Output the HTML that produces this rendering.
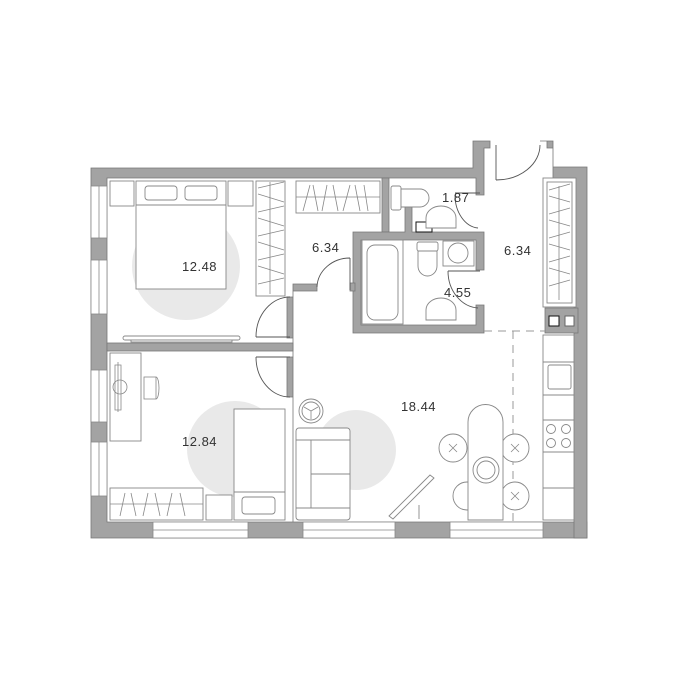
<!DOCTYPE html>
<html><head><meta charset="utf-8"><style>body{margin:0;background:#fff}svg{display:block}</style></head><body>
<svg width="680" height="679" viewBox="0 0 680 679" xmlns="http://www.w3.org/2000/svg" font-family="Liberation Sans, sans-serif">
<g fill="#e9e9e9"><circle cx="186" cy="266" r="54"/><circle cx="235" cy="449" r="48"/><circle cx="356" cy="450" r="40"/></g>
<g fill="#a3a3a3" stroke="#777" stroke-width="0.8">
<path d="M91 168 H473 V141 H490 V148 H484 V195 H476 V178 H107 V522 H293 V397 H287 V357 H293 V338 H287 V297 H293 V284 H317 V291 H293 V522 H587 V538 H91 Z"/>
<path d="M540 141 H553 V167 H587 V538 H574 V178 H553 V148 H547 V141 Z" />
<rect x="107" y="343" width="186" height="8"/>
<rect x="382" y="178" width="7" height="54"/>
<path d="M353 232 H405 V207 H412 V232 H484 V270 H476 V240 H361 V325 H476 V305 H484 V333 H353 Z"/>
<rect x="350" y="283" width="5" height="8"/>
<rect x="545" y="308" width="33" height="25"/>
</g>
<g fill="#fff" stroke="#888" stroke-width="0.8">
<rect x="91" y="186" width="16" height="52"/><rect x="91" y="260" width="16" height="54"/>
<rect x="91" y="370" width="16" height="52"/><rect x="91" y="442" width="16" height="54"/>
<rect x="153" y="522" width="95" height="16"/><rect x="303" y="522" width="92" height="16"/><rect x="450" y="522" width="93" height="16"/>
</g>
<g stroke="#888" stroke-width="0.8"><line x1="99" y1="186" x2="99" y2="238"/><line x1="99" y1="260" x2="99" y2="314"/><line x1="99" y1="370" x2="99" y2="422"/><line x1="99" y1="442" x2="99" y2="496"/>
<line x1="153" y1="530" x2="248" y2="530"/><line x1="303" y1="530" x2="395" y2="530"/><line x1="450" y1="530" x2="543" y2="530"/></g>
<g fill="#fff" stroke="#111" stroke-width="1"><rect x="549" y="316" width="10" height="10"/><rect x="565" y="316" width="9" height="10" stroke="#666"/><rect x="416" y="222" width="16" height="10"/></g>
<g fill="none" stroke="#555" stroke-width="0.9">
<path d="M256 337 H290 M256 337 A34 40 0 0 1 290 297"/>
<path d="M256 357 H290 M256 357 A34 40 0 0 0 290 397"/>
<path d="M350 258 V290 M317 287 A33 30 0 0 1 350 258"/>
<path d="M455 193 H480 M455 195 A25 33 0 0 0 478 228"/>
<path d="M448 271 H480 M448 271 A32 37 0 0 0 478 308"/>
<path d="M496 145 V180 M496 180 A44 35 0 0 0 540 145"/>
</g>
<g stroke="#999" stroke-width="1" stroke-dasharray="8 6" fill="none"><path d="M484 331 H545 M513 331 V522"/></g>
<g fill="#fff" stroke="#888" stroke-width="0.9">
<rect x="110" y="181" width="24" height="25"/><rect x="228" y="181" width="25" height="25"/>
<rect x="136" y="181" width="90" height="108"/><rect x="145" y="186" width="32" height="14" rx="3"/><rect x="185" y="186" width="32" height="14" rx="3"/>
<line x1="136" y1="205" x2="226" y2="205"/>
<rect x="256" y="181" width="29" height="115"/>
<rect x="123" y="336" width="117" height="4" rx="2"/><rect x="131" y="340" width="101" height="2"/>
<rect x="296" y="181" width="84" height="32"/>
<rect x="110" y="353" width="31" height="88"/><rect x="234" y="409" width="51" height="111"/><rect x="242" y="497" width="33" height="17" rx="3"/>
<line x1="234" y1="492" x2="285" y2="492"/>
<rect x="110" y="488" width="93" height="32"/><rect x="206" y="495" width="26" height="25"/>
<rect x="296" y="428" width="54" height="92" rx="3"/><line x1="296" y1="440" x2="350" y2="440"/><line x1="296" y1="508" x2="350" y2="508"/><line x1="311" y1="440" x2="311" y2="508"/><line x1="311" y1="474" x2="350" y2="474"/>
<circle cx="311" cy="411" r="12"/><circle cx="311" cy="411" r="9"/>
<circle cx="453" cy="448" r="14"/><circle cx="515" cy="448" r="14"/><circle cx="467" cy="496" r="14"/><circle cx="515" cy="496" r="14"/>
<path d="M468 520 V422 A17.5 17.5 0 0 1 503 422 V520 Z"/>
<circle cx="486" cy="470" r="13"/><circle cx="486" cy="470" r="9"/>
<rect x="543" y="335" width="31" height="185"/><line x1="543" y1="362" x2="574" y2="362"/><line x1="543" y1="395" x2="574" y2="395"/><line x1="543" y1="420" x2="574" y2="420"/><line x1="543" y1="452" x2="574" y2="452"/><line x1="543" y1="488" x2="574" y2="488"/>
<rect x="548" y="365" width="23" height="24" rx="2"/>
<circle cx="551" cy="429" r="4.5"/><circle cx="566" cy="429" r="4.5"/><circle cx="551" cy="443" r="4.5"/><circle cx="566" cy="443" r="4.5"/>
<rect x="543" y="178" width="33" height="129"/><rect x="547" y="182" width="25" height="121"/>
<rect x="391" y="186" width="10" height="24" rx="2"/><path d="M401 189 H420 A9 9 0 0 1 420 207 H401 Z"/>
<path d="M426 228 V218 A15 12 0 0 1 456 218 V228 Z"/><path d="M426 320 V310 A15 12 0 0 1 456 310 V320 Z"/>
<rect x="362" y="240" width="41" height="84"/><rect x="367" y="245" width="31" height="75" rx="8"/>
<rect x="417" y="242" width="21" height="9" rx="2"/><path d="M418 251 H437 V266 A9.5 10 0 0 1 418 266 Z"/>
<rect x="443" y="241" width="31" height="25"/><circle cx="458" cy="253" r="10"/>
<path d="M389 516 L430 475 L434 478 L393 519 Z"/><line x1="419" y1="505" x2="419" y2="519"/>
</g>
<g stroke="#888" stroke-width="0.8" fill="none">
<path d="M296 197 H380 M303 211 L310 185 M313 185 L318 211 M322 211 L327 185 M333 185 L338 211 M343 211 L350 185 M355 185 L360 211 M364 185 L368 211"/>
<path d="M110 504 H203 M120 516 L125 493 M131 493 L136 516 M143 516 L148 493 M155 493 L160 516 M167 516 L172 493 M180 493 L185 516"/>
<path d="M258 188 L284 182 M258 194 L284 202 M258 212 L284 206 M258 218 L284 226 M258 236 L284 230 M258 242 L284 250 M258 260 L284 254 M258 266 L284 274 M258 284 L284 278 M270 182 V294"/>
<path d="M549 190 L570 184 M549 196 L570 202 M549 214 L570 208 M549 220 L570 226 M549 238 L570 232 M549 244 L570 250 M549 262 L570 256 M549 268 L570 274 M549 286 L570 280 M559 186 V300"/>
<path d="M118 362 V412 M115 365 L121 365 L121 410 L115 410 Z"/><circle cx="120" cy="387" r="7"/><rect x="144" y="377" width="12" height="22"/><path d="M156 377 a3 11 0 0 1 0 22"/>
<path d="M449 444 l8 8 M457 444 l-8 8 M511 444 l8 8 M519 444 l-8 8 M511 492 l8 8 M519 492 l-8 8"/>
<path d="M304 407 L311 411 L318 407 M311 411 V419"/>
</g>
<g fill="#333" font-size="13" letter-spacing="0.5">
<text x="182" y="271">12.48</text><text x="312" y="252">6.34</text><text x="442" y="202">1.87</text><text x="504" y="255">6.34</text><text x="444" y="297">4.55</text><text x="182" y="446">12.84</text><text x="401" y="411">18.44</text>
</g>
</svg>
</body></html>
